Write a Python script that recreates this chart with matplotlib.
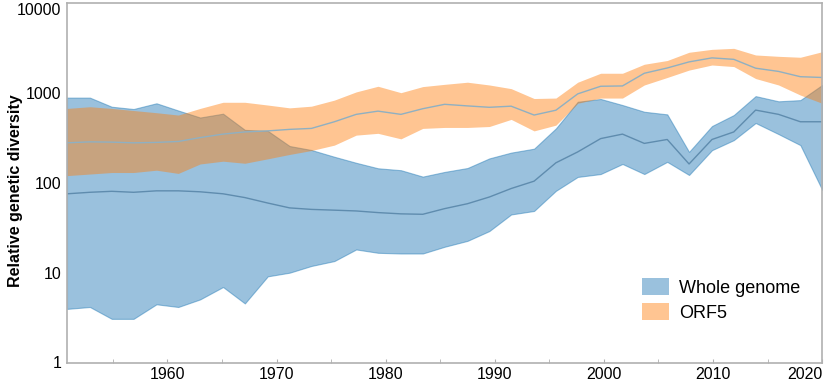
import matplotlib
matplotlib.use("Agg")
import matplotlib.pyplot as plt
from matplotlib.ticker import FixedLocator, MultipleLocator, FixedFormatter
from matplotlib.patches import Patch

plt.rcParams['font.family'] = ['Liberation Sans', 'DejaVu Sans']

years = [1950.8, 1952.9, 1954.9, 1956.9, 1959.0, 1961.0, 1963.0, 1965.1, 1967.1,
         1969.2, 1971.2, 1973.2, 1975.3, 1977.3, 1979.3, 1981.4, 1983.4, 1985.4,
         1987.5, 1989.5, 1991.5, 1993.6, 1995.6, 1997.6, 1999.7, 2001.7, 2003.7,
         2005.8, 2007.8, 2009.9, 2011.9, 2013.9, 2016.0, 2018.0, 2020.0]

wg_upper = [890, 890, 705, 665, 770, 640, 535, 590, 390, 380, 258, 233, 196, 168,
            146, 139, 118, 133, 147, 188, 218, 241, 405, 800, 860, 736, 620, 580,
            222, 430, 570, 925, 810, 835, 1230]
wg_median = [76, 79, 81, 79, 82, 82, 80, 76, 69, 60, 53, 51, 50, 49, 47, 45.5, 45,
             52, 59, 70, 87, 105, 168, 222, 312, 350, 276, 305, 163, 305, 370, 647,
             580, 480, 480]
wg_lower = [4.0, 4.2, 3.1, 3.1, 4.5, 4.2, 5.1, 7.0, 4.6, 9.2, 10.1, 12.0, 13.6,
            18.3, 16.8, 16.5, 16.5, 19.6, 22.8, 29.3, 44.8, 49, 82, 117, 126, 163,
            126, 172, 123, 232, 300, 465, 350, 264, 84]

orf5_upper = [675, 705, 675, 640, 605, 570, 675, 790, 790, 736, 685, 715, 835,
              1030, 1190, 1010, 1180, 1250, 1320, 1230, 1120, 870, 880, 1320, 1660,
              1660, 2090, 2300, 2840, 3060, 3140, 2650, 2560, 2500, 2880]
orf5_median = [280, 287, 285, 280, 283, 290, 320, 350, 370, 380, 395, 405, 480,
               580, 630, 580, 670, 750, 720, 695, 715, 570, 645, 980, 1190, 1200,
               1660, 1900, 2220, 2460, 2370, 1890, 1740, 1520, 1490]
orf5_lower = [121, 126, 131, 131, 139, 128, 163, 175, 166, 186, 208, 230, 264, 341,
              357, 310, 405, 415, 415, 425, 510, 380, 440, 770, 880, 880, 1230,
              1490, 1800, 2050, 1970, 1450, 1230, 950, 770]

series_labels = ["Whole genome", "ORF5"]
ytick_vals = [1, 10, 100, 1000, 10000]
ytick_labels = ["1", "10", "100", "1000", "10000"]
xtick_vals = [1960, 1970, 1980, 1990, 2000, 2010, 2020]

fig = plt.figure(figsize=(8.29, 3.83), dpi=100)
ax = fig.add_axes([0.0808, 0.052, 0.911, 0.940])

blue = '#1f77b4'
orange = '#ff7f0e'

ax.fill_between(years, wg_lower, wg_upper, color=blue, alpha=0.45, lw=0.8,
                edgecolor=(0.12, 0.47, 0.71, 0.25))
ax.plot(years, wg_median, color='#5f8cae', lw=1.0)
ax.fill_between(years, orf5_lower, orf5_upper, color=orange, alpha=0.45, lw=0)
ax.plot(years, orf5_median, color='#8fb0c2', lw=1.0)

ax.set_yscale('log')
ax.set_ylim(1, 10000)
ax.set_xlim(1950.8, 2020)
ax.yaxis.set_major_locator(FixedLocator(ytick_vals))
ax.yaxis.set_major_formatter(FixedFormatter(ytick_labels))
ax.yaxis.set_minor_locator(FixedLocator([]))
ax.xaxis.set_major_locator(FixedLocator(xtick_vals))
ax.xaxis.set_minor_locator(MultipleLocator(5))
ax.tick_params(axis='y', length=0, labelsize=11.5, pad=4)
ax.tick_params(axis='x', which='both', direction='in', length=3, color='#b0b0b0',
               labelsize=11.5, pad=3)

# keep edge labels inside the canvas, as in the reference
ylabs = ax.get_yticklabels()
ylabs[-1].set_verticalalignment('top')
ylabs[0].set_verticalalignment('center')
xlabs = ax.get_xticklabels()
xlabs[-1].set_horizontalalignment('right')

for s in ax.spines.values():
    s.set_color('#b0b0b0')
    s.set_linewidth(1.2)

ax.set_ylabel("Relative genetic diversity", fontsize=11.5, fontweight='bold')
ax.yaxis.set_label_coords(-0.058, 0.48)

handles = [Patch(facecolor=blue, alpha=0.45, edgecolor='none'),
           Patch(facecolor=orange, alpha=0.45, edgecolor='none')]
ax.legend(handles, series_labels, loc='lower left', bbox_to_anchor=(0.762, 0.115),
          borderaxespad=0, borderpad=0, frameon=False, fontsize=13,
          handlelength=1.45, handleheight=1.1, labelspacing=0.35, handletextpad=0.6)

fig.savefig("out.png", dpi=100)
